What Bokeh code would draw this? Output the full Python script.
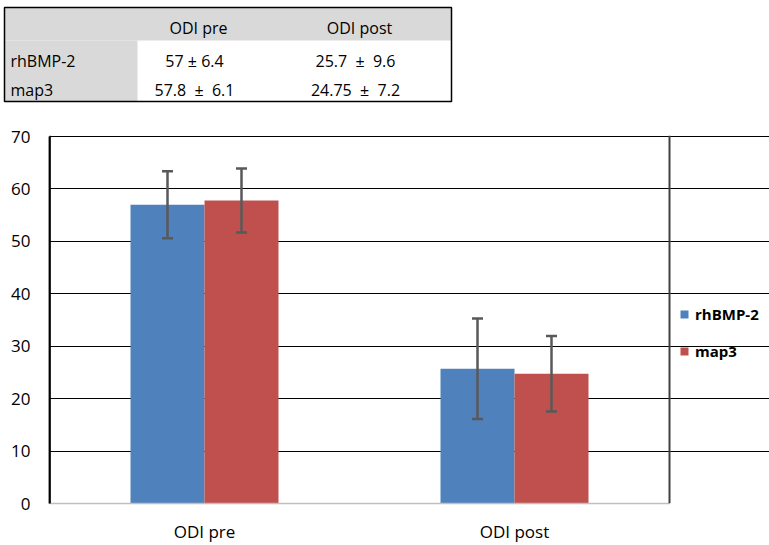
from bokeh.plotting import figure
from bokeh.models import (Range1d, Legend, LegendItem, Whisker, ColumnDataSource,
                          FixedTicker, TeeHead, Span)
from bokeh.embed import file_html
from bokeh.resources import INLINE
from bokeh.core.properties import value

# ---------------- data ----------------
categories = ["ODI pre", "ODI post"]
groups = ["rhBMP-2", "map3"]
mean_rhbmp = [57, 25.7]
sd_rhbmp = [6.4, 9.6]
mean_map3 = [57.8, 24.75]
sd_map3 = [6.1, 7.2]
y_ticks = [0, 10, 20, 30, 40, 50, 60, 70]
NB = "\u00a0"
table_sep = [[" ± ", NB + " ±" + NB + " "], [NB + " ±" + NB + " ", NB + " ±" + NB + " "]]

colors = ["#4F81BD", "#C0504D"]
FONT = value("Open Sans")

# ---------------- table (page pixel coordinates) ----------------
TW, TH = 460, 110
t = figure(width=TW, height=TH, x_range=Range1d(0, TW), y_range=Range1d(TH, 0),
           toolbar_location=None, output_backend="svg", min_border=0,
           x_axis_location=None, y_axis_location=None)
t.grid.visible = False
t.outline_line_color = None

tab_left, tab_right = 4, 451
tab_top, head_bottom, tab_bottom = 7, 40, 101
col1_right = 137
gray = "#D9D9D9"
t.quad(left=[tab_left, tab_left], right=[tab_right, col1_right],
       top=[tab_top, head_bottom], bottom=[head_bottom, tab_bottom],
       fill_color=gray, line_color=None)
t.quad(left=[tab_left], right=[tab_right], top=[tab_top], bottom=[tab_bottom],
       fill_color=None, line_color="black", line_width=1.5)

col_centers = [198, 359]
row_centers = [60, 89]
head_y = 27
t.text(x=col_centers, y=[head_y] * 2, text=categories, text_align="center",
       text_baseline="middle", text_font=FONT, text_font_size="16px", text_color="black")
t.text(x=[10] * 2, y=row_centers, text=groups, text_align="left",
       text_baseline="middle", text_font=FONT, text_font_size="16px", text_color="black")
means = [mean_rhbmp, mean_map3]
sds = [sd_rhbmp, sd_map3]
cell_x, cell_y, cell_t = [], [], []
for gi in range(len(groups)):
    for ci in range(len(categories)):
        cell_x.append(col_centers[ci] - 4)
        cell_y.append(row_centers[gi])
        cell_t.append(f"{means[gi][ci]:g}{table_sep[gi][ci]}{sds[gi][ci]:g}")
t.text(x=cell_x, y=cell_y, text=cell_t, text_align="center", text_baseline="middle",
       text_font=FONT, text_font_size="16px", text_color="black")

# ---------------- chart ----------------
W, H = 769, 435
LEFT, TOP, BOTTOM = 49, 25, 42
PLOT_W = 620                      # width of the bar area; legend sits to its right
ncat = len(categories)
x_end = ncat * (W - LEFT) / PLOT_W

p = figure(width=W, height=H, x_range=Range1d(0, x_end),
           y_range=Range1d(0, 70.2), toolbar_location=None, output_backend="svg",
           min_border_left=LEFT, min_border_right=0, min_border_top=TOP,
           min_border_bottom=BOTTOM)
p.outline_line_color = None

bw = 0.2387
offsets = [-bw / 2, bw / 2]
renderers = []
for gi in range(len(groups)):
    xs = [ci + 0.5 + offsets[gi] for ci in range(ncat)]
    m = means[gi]
    s = sds[gi]
    src = ColumnDataSource(dict(x=xs, top=m,
                                upper=[a + b for a, b in zip(m, s)],
                                lower=[a - b for a, b in zip(m, s)]))
    r = p.vbar(x="x", top="top", width=bw, source=src, fill_color=colors[gi],
               line_color=None)
    renderers.append(r)
    w = Whisker(base="x", upper="upper", lower="lower", source=src,
                line_color="#595959", line_width=2.5, level="overlay",
                upper_head=TeeHead(size=11, line_color="#595959", line_width=2.5),
                lower_head=TeeHead(size=11, line_color="#595959", line_width=2.5))
    p.add_layout(w)

p.add_layout(Span(location=ncat, dimension="height",
                  line_color="#404040", line_width=2))
p.add_layout(Span(location=0, dimension="height",
                  line_color="black", line_width=2.5))

p.xgrid.visible = False
p.ygrid.ticker = FixedTicker(ticks=y_ticks[1:])
p.ygrid.bounds = (0, ncat)
p.ygrid.grid_line_color = "black"
p.ygrid.grid_line_width = 1.2

p.yaxis.ticker = FixedTicker(ticks=y_ticks)
p.yaxis.bounds = (0, 70)
p.yaxis.major_tick_in = 0
p.yaxis.major_tick_out = 0
p.yaxis.minor_tick_line_color = None
p.yaxis.axis_line_color = "black"
p.yaxis.axis_line_width = 1.8
p.yaxis.major_label_standoff = 19
p.yaxis.major_label_text_font = "Open Sans"
p.yaxis.major_label_text_font_size = "17px"
p.yaxis.major_label_text_color = "black"

p.xaxis.ticker = FixedTicker(ticks=[ci + 0.5 for ci in range(ncat)])
p.xaxis.major_label_overrides = {ci + 0.5: c for ci, c in enumerate(categories)}
p.xaxis.bounds = (0, ncat)
p.xaxis.major_tick_in = 0
p.xaxis.major_tick_out = 0
p.xaxis.minor_tick_line_color = None
p.xaxis.axis_line_color = "#BFBFBF"
p.xaxis.axis_line_width = 1.6
p.xaxis.major_label_standoff = 16
p.xaxis.major_label_text_font = "Open Sans"
p.xaxis.major_label_text_font_size = "17px"
p.xaxis.major_label_text_color = "black"

legend = Legend(items=[LegendItem(label=g, renderers=[r]) for g, r in zip(groups, renderers)],
                location=(630, 142), border_line_color=None, background_fill_alpha=0,
                padding=0, margin=0, spacing=17, label_standoff=6,
                glyph_width=10, glyph_height=10, label_height=20,
                label_text_font="Open Sans", label_text_font_size="15px",
                label_text_font_style="bold", label_text_color="black")
p.add_layout(legend, "center")

open("out.html", "w").write(file_html([t, p], INLINE))
